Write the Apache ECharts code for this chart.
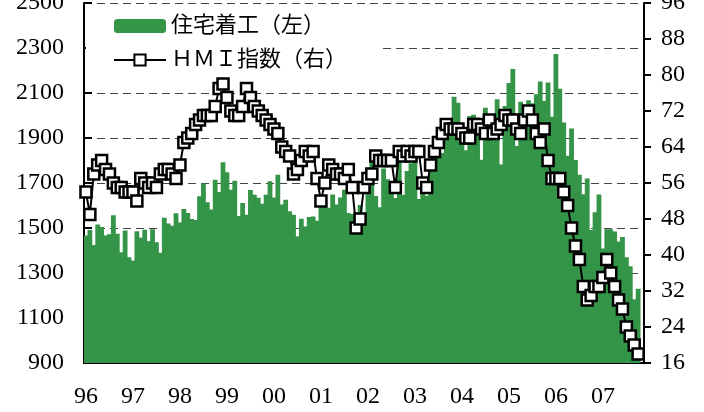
<!DOCTYPE html>
<html>
<head>
<meta charset="utf-8">
<script src="https://cdn.jsdelivr.net/npm/echarts@6/dist/echarts.min.js"></script>
<style>
html,body{margin:0;padding:0;background:#fff;}
#chart{width:704px;height:412px;}
</style>
</head>
<body>
<div id="chart"></div>
<script>
// Year tick labels (one per January)
var yearLabels = ['96','97','98','99','00','01','02','03','04','05','06','07'];
// Months in the last year shown on the axis
var lastYearMonths = 11;

// 住宅着工 (thousand units, SAAR) monthly, Jan 1996 -> Nov 2007
var starts1996 = [1467,1491,1424,1516,1504,1467,1472,1557,1475,1392,1489,1370];
var starts1997 = [1355,1486,1457,1492,1442,1494,1437,1390,1546,1520,1510,1566];
var starts1998 = [1525,1584,1567,1540,1536,1641,1698,1614,1582,1715,1660,1792];
var starts1999 = [1748,1670,1710,1553,1611,1559,1669,1648,1635,1608,1648,1708];
var starts2000 = [1636,1737,1604,1626,1575,1559,1463,1541,1507,1549,1551,1532];
var starts2001 = [1600,1625,1590,1649,1605,1636,1670,1567,1562,1540,1602,1568];
var starts2002 = [1698,1829,1642,1592,1764,1717,1655,1633,1804,1648,1753,1788];
var starts2003 = [1853,1629,1726,1643,1751,1867,1897,1833,1939,1967,2083,2057];
var starts2004 = [1911,1846,1998,2003,1981,1803,2035,2000,1905,2072,1782,2042];
var starts2005 = [2144,2207,1864,2061,2025,2068,2054,2095,2151,2065,2147,1994];
var starts2006 = [2273,2119,1969,1821,1942,1802,1737,1650,1720,1491,1570,1649];
var starts2007 = [1409,1495,1495,1485,1440,1460,1370,1330,1183,1230,null];

// HMI 指数 monthly, Jan 1996 -> Nov 2007
var hmi1996 = [54,49,58,60,61,59,58,56,55,55,54,54];
var hmi1997 = [54,52,57,56,55,56,55,58,59,59,58,57];
var hmi1998 = [60,65,66,67,69,70,71,71,71,73,77,78];
var hmi1999 = [75,72,71,71,73,77,75,73,72,71,70,69];
var hmi2000 = [68,67,64,63,62,58,59,61,63,62,63,57];
var hmi2001 = [52,56,60,59,58,58,57,59,55,46,48,55];
var hmi2002 = [57,58,62,61,61,61,61,55,63,62,63,62];
var hmi2003 = [63,63,56,55,60,63,65,67,69,68,68,68];
var hmi2004 = [67,66,66,69,69,68,67,70,67,68,69,71];
var hmi2005 = [70,70,68,67,70,72,70,67,65,68,61,57];
var hmi2006 = [57,57,54,51,46,42,39,33,30,31,33,33];
var hmi2007 = [35,39,36,33,30,28,24,22,20,18,null];

var startsLabel = '住宅着工（左）';
var hmiLabel = 'ＨＭＩ指数（右）';

var startsData = [].concat(starts1996,starts1997,starts1998,starts1999,starts2000,starts2001,
  starts2002,starts2003,starts2004,starts2005,starts2006,starts2007);
var hmiData = [].concat(hmi1996,hmi1997,hmi1998,hmi1999,hmi2000,hmi2001,
  hmi2002,hmi2003,hmi2004,hmi2005,hmi2006,hmi2007);

var categories = [];
yearLabels.forEach(function(y, yi){
  var n = (yi === yearLabels.length - 1) ? lastYearMonths : 12;
  for (var m = 1; m <= n; m++) categories.push(y + '-' + (m < 10 ? '0' + m : m));
});

var FONT = "'Liberation Serif', 'Noto Sans CJK JP', serif";
var GREEN = '#349448';

var chart = echarts.init(document.getElementById('chart'), null, {renderer:'canvas'});
chart.setOption({
  animation: false,
  backgroundColor: '#fff',
  grid: {left: 84, right: 60, top: 3, bottom: 49, containLabel: false, outerBoundsMode: 'none'},
  legend: {
    orient: 'vertical',
    left: 86, top: 7,
    padding: [8, 33, 4, 27],
    backgroundColor: '#fff',
    itemWidth: 52, itemHeight: 14, itemGap: 12,
    textStyle: {fontFamily: FONT, fontSize: 22, color: '#000'},
    data: [startsLabel, hmiLabel],
    z: 1
  },
  xAxis: {
    type: 'category',
    data: categories,
    boundaryGap: true,
    axisLine: {lineStyle: {color: '#000', width: 2}},
    axisTick: {
      inside: true, length: 8, lineStyle: {color: '#000', width: 2},
      interval: function(i){ return i % 12 === 0; }
    },
    axisLabel: {
      interval: function(i){ return i % 12 === 0; },
      formatter: function(v, i){ return yearLabels[Math.floor(i / 12)]; },
      fontFamily: FONT, fontSize: 24, color: '#000', margin: 22
    },
    splitLine: {show: false}
  },
  yAxis: [{
    type: 'value', min: 900, max: 2500, interval: 200,
    axisLine: {show: true, lineStyle: {color: '#000', width: 2}},
    axisTick: {show: true, inside: true, length: 8, lineStyle: {color: '#000', width: 2}},
    axisLabel: {fontFamily: FONT, fontSize: 24, color: '#000', margin: 20,
      formatter: function(v){ return String(v); }},
    splitLine: {show: true, lineStyle: {color: '#444', width: 1.2, type: [8, 5]}}
  }, {
    type: 'value', min: 16, max: 96, interval: 8, position: 'right',
    axisLine: {show: true, lineStyle: {color: '#000', width: 2}},
    axisTick: {show: true, inside: false, length: 7, lineStyle: {color: '#000', width: 2}},
    axisLabel: {fontFamily: FONT, fontSize: 24, color: '#000', margin: 17,
      formatter: function(v){ return String(v); }},
    splitLine: {show: false}
  }],
  series: [{
    name: startsLabel,
    type: 'bar',
    data: startsData,
    barWidth: 4.8,
    itemStyle: {color: GREEN},
    z: 1
  }, {
    name: hmiLabel,
    type: 'line',
    yAxisIndex: 1,
    data: hmiData,
    symbol: 'rect',
    symbolSize: 11,
    showAllSymbol: true,
    lineStyle: {color: '#000', width: 2},
    itemStyle: {color: '#fff', borderColor: '#000', borderWidth: 2.5},
    z: 3
  }]
});
</script>
</body>
</html>
